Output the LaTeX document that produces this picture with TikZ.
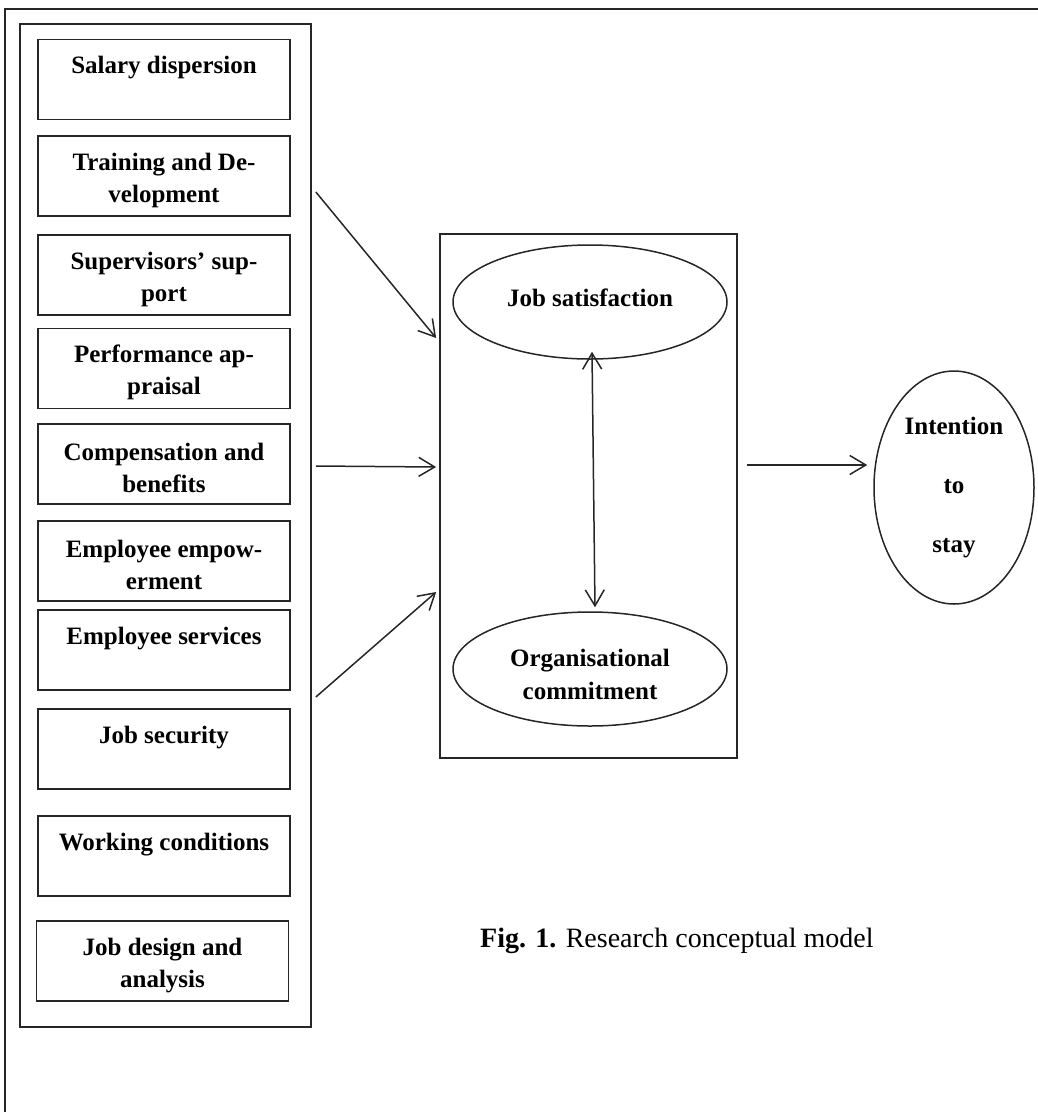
\documentclass[tikz,border=0pt]{standalone}
\usepackage{fontspec}
\setmainfont{Liberation Serif}
\usetikzlibrary{arrows.meta,shapes.geometric,calc}
\definecolor{ink}{HTML}{262626}
\newcommand{\bxt}[2]{\rule{0pt}{26pt}#1\\#2}
\begin{document}
\begin{tikzpicture}[x=1pt,y=-1pt,
  frame/.style={draw=ink,line width=2pt},
  panelbox/.style={draw=ink,line width=1.7pt,minimum width=291pt,minimum height=1003pt,inner sep=0pt},
  corebox/.style={draw=ink,line width=1.7pt,minimum width=297pt,minimum height=524pt,inner sep=0pt},
  factor/.style={draw=ink,line width=1.8pt,minimum width=252pt,minimum height=80pt,inner sep=0pt,
    align=center,font=\bfseries\fontsize{25}{32}\selectfont},
  oval/.style={ellipse,draw=ink,line width=1.5pt,inner sep=0pt,align=center,
    font=\bfseries\fontsize{25}{33}\selectfont},
  arr/.style={draw=ink,line width=1.5pt,-{Straight Barb[length=16pt,width=19pt,line width=1.5pt]}},
  darr/.style={draw=ink,line width=1.5pt,{Straight Barb[length=16pt,width=19pt,line width=1.5pt]}-{Straight Barb[length=16pt,width=19pt,line width=1.5pt]}}
]
\useasboundingbox (0,0) rectangle (1038,1112);
% outer frame (cut off at right and bottom)
\draw[frame] (5,1112) -- (5,9) -- (1038,9);

% left panel
\node[panelbox] (panel) at (165.5,525.5) {};
\node[factor] (f1) at (164,79.5) {\bxt{Salary dispersion}{\phantom{g}}};
\node[factor] (f2) at (164,176) {\bxt{Training and De-}{velopment}};
\node[factor] (f3) at (164,275) {\bxt{Supervisors’ sup-}{port}};
\node[factor] (f4) at (164,368.5) {\bxt{Performance ap-}{praisal}};
\node[factor] (f5) at (164,464) {\bxt{Compensation and}{benefits}};
\node[factor] (f6) at (164,561) {\bxt{Employee empow-}{erment}};
\node[factor] (f7) at (164,650) {\bxt{Employee services}{\phantom{g}}};
\node[factor] (f8) at (164,749) {\bxt{Job security}{\phantom{g}}};
\node[factor] (f9) at (164,856) {\bxt{Working conditions}{\phantom{g}}};
\node[factor] (f10) at (162.5,961) {\bxt{Job design and}{analysis}};

% central panel
\node[corebox] (core) at (588.5,496) {};
\node[oval,minimum width=274pt,minimum height=114pt] (js) at (590,302) {Job satisfaction\rule[-8pt]{0pt}{0pt}};
\node[oval,minimum width=274pt,minimum height=114pt] (oc) at (590,669) {\rule{0pt}{28pt}Organisational\\commitment};

% outcome
\node[oval,minimum width=160pt,minimum height=233pt,font=\bfseries\fontsize{25}{59}\selectfont] (its) at (954,487.5) {Intention\\to\\stay};

% connectors
\draw[arr] ($(panel.east |- 0,192)+(4,0)$) -- ($(core.west |- 0,338)+(-3,0)$);
\draw[arr] ($(panel.east |- 0,466)+(4,0)$) -- ($(core.west |- 0,467)+(-3,0)$);
\draw[arr] ($(panel.east |- 0,697)+(4,0)$) -- ($(core.west |- 0,592)+(-3,0)$);
\draw[darr] ($(js.south)+(2,-8)$) -- ($(oc.north)+(5,-4)$);
\draw[arr] ($(core.east |- 0,465)+(9,0)$) -- ($(its.west |- 0,465)+(-6,0)$);

% caption
\node[anchor=base west,inner sep=0pt,font=\fontsize{28}{34}\selectfont] (cap) at (480,947) {\textbf{Fig. 1.} Research conceptual model};
\end{tikzpicture}
\end{document}
